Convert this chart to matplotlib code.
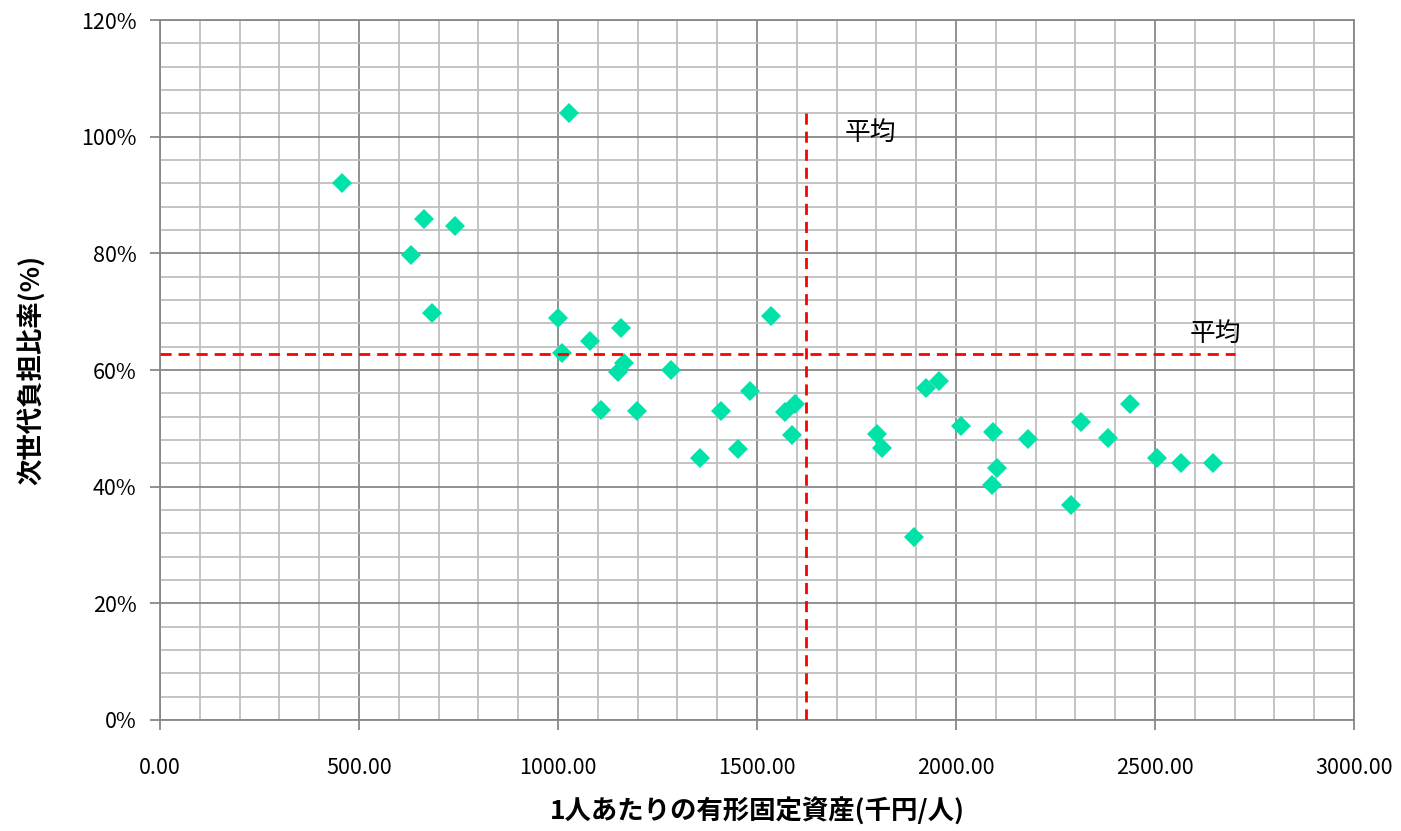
import matplotlib
matplotlib.use("Agg")
import matplotlib.pyplot as plt
from matplotlib.ticker import MultipleLocator, PercentFormatter, FormatStrFormatter

plt.rcParams['font.family'] = ['Noto Sans CJK JP', 'DejaVu Sans']

# 1人あたりの有形固定資産 (千円/人)
asset = [457, 1028, 663, 741, 631, 683, 1000, 1010, 1080, 1158,
         1535, 1166, 1150, 1108, 1198, 1284, 1357, 1410, 1452, 1482,
         1570, 1595, 1588, 1801, 1814, 1894, 1925, 1957, 2013, 2093,
         2103, 2090, 2181, 2289, 2314, 2382, 2437, 2505, 2565, 2646]
# 次世代負担比率
ratio = [0.921, 1.041, 0.859, 0.847, 0.797, 0.698, 0.689, 0.629, 0.650, 0.672,
         0.693, 0.612, 0.596, 0.531, 0.529, 0.600, 0.449, 0.530, 0.465, 0.564,
         0.528, 0.542, 0.489, 0.490, 0.466, 0.314, 0.569, 0.581, 0.504, 0.494,
         0.432, 0.403, 0.482, 0.369, 0.511, 0.483, 0.542, 0.449, 0.441, 0.441]

mean_x = 1623
mean_y = 0.627
mean_x_top = 1.04      # vertical mean line ends here
mean_y_right = 2700    # horizontal mean line ends here

fig = plt.figure(figsize=(14.01, 8.31), dpi=100)
ax = fig.add_axes([0.1142, 0.1336, 0.8523, 0.8423])

# ---- grid ---------------------------------------------------------
ax.set_xlim(0, 3000)
ax.set_ylim(0, 1.2)
ax.xaxis.set_major_locator(MultipleLocator(500))
ax.xaxis.set_minor_locator(MultipleLocator(100))
ax.yaxis.set_major_locator(MultipleLocator(0.2))
ax.yaxis.set_minor_locator(MultipleLocator(0.04))
ax.grid(True, which="major", color="#888888", linewidth=1.3, zorder=0)
ax.grid(True, which="minor", color="#bfbfbf", linewidth=1.3, zorder=0)
ax.set_axisbelow(True)

ax.xaxis.set_major_formatter(FormatStrFormatter("%.2f"))
ax.yaxis.set_major_formatter(PercentFormatter(1.0, decimals=0))

for spine in ax.spines.values():
    spine.set_edgecolor("#888888")
    spine.set_linewidth(1.3)

ax.tick_params(which="major", length=7, width=1.3, color="#888888",
               labelsize=15.5, labelcolor="black")
ax.tick_params(axis="x", which="major", pad=20)
ax.tick_params(axis="y", which="major", pad=10)
ax.tick_params(which="minor", length=0)

# ---- data ---------------------------------------------------------
ax.plot(asset, ratio, linestyle="none", marker="D", markersize=10,
        color="#00e3a8", markeredgewidth=0, zorder=3)

# ---- mean lines ---------------------------------------------------
ax.plot([mean_x, mean_x], [0, mean_x_top], color="#ff0000",
        linewidth=2, linestyle=(0, (4, 2.5)), zorder=4)
ax.plot([0, mean_y_right], [mean_y, mean_y], color="#ff0000",
        linewidth=2, linestyle=(0, (4, 2.5)), zorder=4)

ax.text(1784, 1.006, "平均", fontsize=18.5, ha="center", va="center")
ax.text(2651, 0.662, "平均", fontsize=18.5, ha="center", va="center")

ax.set_xlabel("1人あたりの有形固定資産(千円/人)", fontsize=19,
              fontweight="bold", labelpad=13)
ax.set_ylabel("次世代負担比率(%)", fontsize=19, fontweight="bold",
              labelpad=26)

fig.savefig("out.png", dpi=100)
